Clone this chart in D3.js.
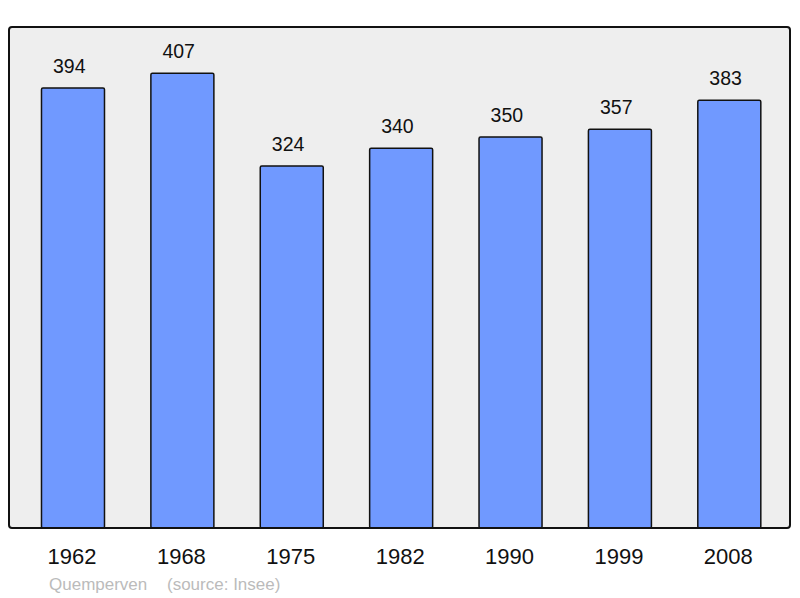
<!DOCTYPE html>
<html>
<head>
<meta charset="utf-8">
<script src="https://cdn.jsdelivr.net/npm/d3@7"></script>
<style>
  body { margin: 0; background: #fff; }
  svg { display: block; font-family: "Liberation Sans", Arial, sans-serif; }
</style>
</head>
<body>
<div id="container"></div>
<script>
const years = ['1962', '1968', '1975', '1982', '1990', '1999', '2008'];
const population = [394, 407, 324, 340, 350, 357, 383];
const commune = 'Quemperven';
const source = '(source: Insee)';

const width = 800, height = 598;
const frame = { left: 9, top: 27, right: 790, bottom: 528 };

const svg = d3.select('#container').append('svg')
    .attr('width', width)
    .attr('height', height);

// plot area
svg.append('rect')
    .attr('x', frame.left)
    .attr('y', frame.top)
    .attr('width', frame.right - frame.left)
    .attr('height', frame.bottom - frame.top)
    .attr('rx', 3)
    .attr('fill', '#eeeeee');

const x = d3.scaleBand()
    .domain(years)
    .range([18.3, 784]);

const y = d3.scaleLinear()
    .domain([0, 448.5])
    .range([frame.bottom, frame.top]);

const barW = x.bandwidth() * 0.576;

const bars = svg.append('g').attr('class', 'bars')
    .selectAll('g')
    .data(years.map((d, i) => ({ year: d, value: population[i] })))
    .join('g');

bars.append('rect')
    .attr('x', d => x(d.year) + (x.bandwidth() - barW) / 2)
    .attr('y', d => y(d.value))
    .attr('width', barW)
    .attr('height', d => y(0) - y(d.value))
    .attr('rx', 1.5)
    .attr('fill', '#7099ff')
    .attr('stroke', '#111')
    .attr('stroke-width', 1.5);

bars.append('text')
    .attr('x', d => x(d.year) + x.bandwidth() / 2 - 3.7)
    .attr('y', d => y(d.value) - 15)
    .attr('text-anchor', 'middle')
    .attr('font-size', 19.5)
    .attr('fill', '#111')
    .text(d => d.value);

// frame border drawn over the bar bottoms
svg.append('rect')
    .attr('x', frame.left)
    .attr('y', frame.top)
    .attr('width', frame.right - frame.left)
    .attr('height', frame.bottom - frame.top)
    .attr('rx', 3)
    .attr('fill', 'none')
    .attr('stroke', '#111')
    .attr('stroke-width', 2);

const xAxis = svg.append('g')
    .attr('transform', `translate(0,${frame.bottom})`)
    .call(d3.axisBottom(x).tickSize(0).tickPadding(0));
xAxis.select('.domain').remove();
xAxis.selectAll('text')
    .attr('dy', null)
    .attr('y', 36)
    .attr('dx', -1)
    .attr('font-size', 22)
    .attr('font-family', '"Liberation Sans", Arial, sans-serif')
    .attr('fill', '#111');

svg.append('text')
    .attr('x', 49)
    .attr('y', 590)
    .attr('font-size', 17)
    .attr('fill', '#bbbbbb')
    .text(commune);

svg.append('text')
    .attr('x', 167)
    .attr('y', 590)
    .attr('font-size', 17)
    .attr('fill', '#bbbbbb')
    .text(source);
</script>
</body>
</html>
